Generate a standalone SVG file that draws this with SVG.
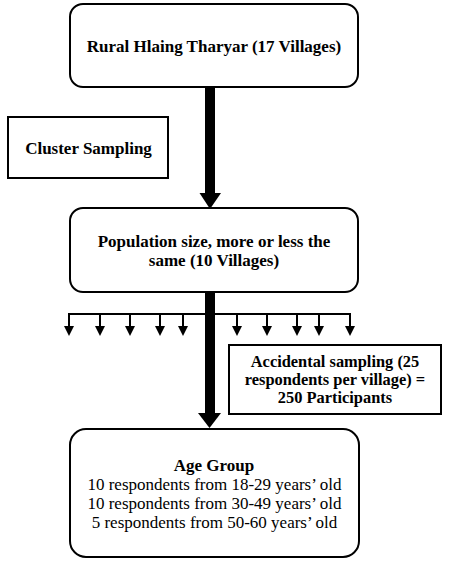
<svg xmlns="http://www.w3.org/2000/svg" width="450" height="564" viewBox="0 0 450 564">
<style>
.box{fill:#fff;stroke:#000;stroke-width:2}
.b{font-family:"Liberation Serif","Times New Roman",serif;font-weight:bold;font-size:17px;text-anchor:middle;fill:#000}
.a{font-size:16.4px}
.r{font-family:"Liberation Serif","Times New Roman",serif;font-size:17px;text-anchor:middle;fill:#000}
.ln{stroke:#000;stroke-width:2;fill:none}
</style>
<g id="connectors">
<rect x="205" y="88" width="10" height="106" fill="#000"/>
<path d="M199.5,193 L221,193 L210,209 Z" fill="#000"/>
<rect x="205" y="292" width="10" height="122" fill="#000"/>
<path d="M198,413 L221,413 L209.5,428 Z" fill="#000"/>
<path class="ln" d="M69,327 V314 H350 V327"/>
<g class="ln">
<path d="M100,314 V327"/><path d="M130,314 V327"/><path d="M160,314 V327"/><path d="M183,314 V327"/>
<path d="M237,314 V327"/><path d="M267,314 V327"/><path d="M297,314 V327"/><path d="M319,314 V327"/>
</g>
<g fill="#000">
<path d="M64,326 h10 l-5,10z"/><path d="M95,326 h10 l-5,10z"/><path d="M125,326 h10 l-5,10z"/><path d="M155,326 h10 l-5,10z"/><path d="M178,326 h10 l-5,10z"/>
<path d="M232,326 h10 l-5,10z"/><path d="M262,326 h10 l-5,10z"/><path d="M292,326 h10 l-5,10z"/><path d="M314,326 h10 l-5,10z"/><path d="M345,326 h10 l-5,10z"/>
</g>
</g>
<g id="n1">
<rect class="box" x="70" y="4" width="288" height="83" rx="13"/>
<text class="b" x="214" y="52">Rural Hlaing Tharyar (17 Villages)</text>
</g>
<g id="n2">
<rect class="box" x="8" y="117" width="160" height="61"/>
<text class="b" x="88.5" y="154">Cluster Sampling</text>
</g>
<g id="n3">
<rect class="box" x="70" y="208" width="288" height="84" rx="13"/>
<text class="b" x="214" y="247">Population size, more or less the</text>
<text class="b" x="214" y="266">same (10 Villages)</text>
</g>
<g id="n4">
<rect class="box" x="229" y="345" width="212" height="69"/>
<text class="b a" x="335" y="367">Accidental sampling (25</text>
<text class="b a" x="335" y="385">respondents per village) =</text>
<text class="b a" x="335" y="403">250 Participants</text>
</g>
<g id="n5">
<rect class="box" x="70" y="429" width="289" height="128" rx="16"/>
<text class="b" x="214" y="471">Age Group</text>
<text class="r" x="214.5" y="490">10 respondents from 18-29 years’ old</text>
<text class="r" x="214.5" y="509">10 respondents from 30-49 years’ old</text>
<text class="r" x="214.5" y="528">5 respondents from 50-60 years’ old</text>
</g>
</svg>
